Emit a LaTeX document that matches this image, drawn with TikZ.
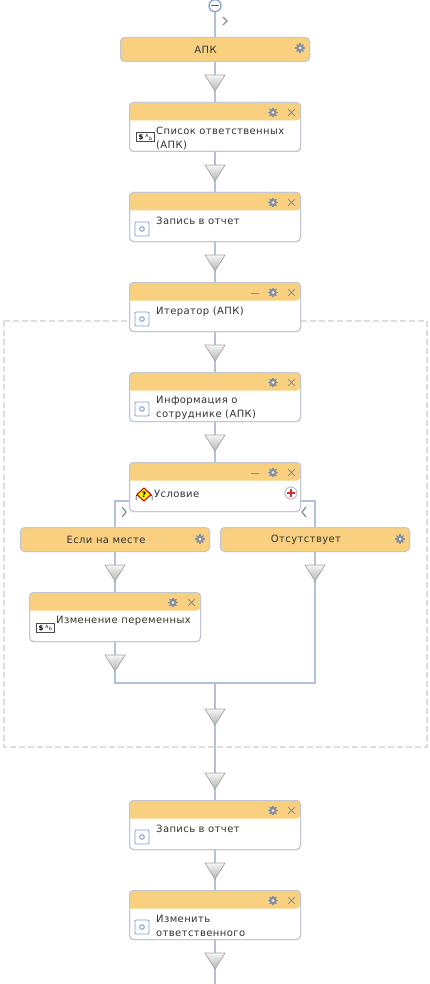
\documentclass[tikz,border=0pt]{standalone}
\usepackage{fontspec}
\setmainfont[LetterSpace=4]{DejaVu Sans}
\usetikzlibrary{shapes.geometric,backgrounds,calc}
\definecolor{hdr}{HTML}{F9D07F}
\definecolor{bord}{HTML}{C3C8D0}
\definecolor{wire}{HTML}{B2C3D8}
\definecolor{ico}{HTML}{8490A2}
\definecolor{txt}{HTML}{333333}
\definecolor{dashc}{HTML}{DEDEDE}
\definecolor{ringc}{HTML}{8FA6CC}
\definecolor{iconb}{HTML}{7FA0D0}
\tikzset{
  boxbase/.style={draw=bord,line width=1pt,rounded corners=4pt,inner sep=0pt},
  stepbox/.style={boxbase,fill=white,minimum width=171pt,minimum height=49pt},
  casebox/.style={boxbase,fill=hdr,minimum width=189pt,minimum height=24pt},
  label/.style={inner sep=0pt,text=txt,font=\fontsize{10}{14}\selectfont,align=left,anchor=north west},
  caselabel/.style={inner sep=0pt,text=txt,font=\fontsize{10}{14}\selectfont},
  wireline/.style={draw=wire,line width=2pt},
  mergetri/.style={isosceles triangle,isosceles triangle stretches,shape border rotate=-90,minimum width=20pt,minimum height=16pt,inner sep=0pt,draw=gray!70,line width=.7pt,top color=gray!8,bottom color=gray!60,anchor=apex},
  chev/.style={draw=ico,line width=1.2pt},
  tool/.style={draw=ico,line width=1pt},
}
\newcommand{\gearicon}[2]{%
  \fill[ico] (#1,#2) circle (3.8pt);
  \foreach \a in {0,45,...,315}{\draw[ico,line width=1.3pt] (#1,#2) ++(\a:2.6) -- ++(\a:2.2);}
  \fill[white!70!hdr] (#1,#2) circle (1.5pt);}
\newcommand{\closeicon}[2]{%
  \draw[tool] (#1,#2) ++(-3.3,-3.3) -- ++(6.6,6.6) ++(-6.6,0) -- ++(6.6,-6.6);}
\newcommand{\minusicon}[2]{\draw[tool] (#1-4,#2+4) -- (#1+4,#2+4);}
\newcommand{\stepframe}[5][24.5]{% text offset; name, cx, top, text
  \node[stepbox] (#2) at (#3,#4+25) {};
  \fill[hdr] (#3-85.5,#4+18.5) [rounded corners=4pt] -- (#3-85.5,#4+.5) -- (#3+85.5,#4+.5) [sharp corners] [rounded corners=4pt] -- (#3+85.5,#4+18.5) [sharp corners] -- cycle;
  \draw[bord,line width=1pt,rounded corners=4pt] (#3-85.5,#4+.5) rectangle (#3+85.5,#4+49.5);
  \gearicon{#3+58}{#4+10.5}
  \closeicon{#3+76.5}{#4+10.5}
  \node[label] (#2text) at (#3-59,#4+#1) {#5};}
\newcommand{\blockicon}[2]{%
  \draw[fill=white,draw=iconb,line width=.9pt,rounded corners=1pt] (#1,#2) rectangle (#1+14,#2+14);
  \draw[draw=iconb,line width=1pt] (#1+7,#2+7) circle (2.3pt);}
\newcommand{\varicon}[2]{%
  \draw[fill=white,draw=black!70,line width=.8pt] (#1,#2) rectangle (#1+18,#2+9);
  \node[inner sep=0pt,font=\fontsize{7}{7}\bfseries\selectfont] at (#1+5,#2+5) {\$};
  \node[inner sep=0pt,font=\fontsize{4.5}{4.5}\selectfont] at (#1+11,#2+3.5) {A};
  \node[inner sep=0pt,font=\fontsize{4.5}{4.5}\selectfont] at (#1+14.5,#2+6) {b};}
\newcommand{\tri}[3]{\node[mergetri] (#1) at (#2,#3+18) {};}
\begin{document}
\begin{tikzpicture}[x=1pt,y=-1pt]
\useasboundingbox (0,0) rectangle (429,984);

% top marker
\node[circle,draw=ringc,line width=1.4pt,fill=white,minimum size=12pt,inner sep=0pt] (start) at (215,5.7) {};
\draw[red!80!black!80,line width=1.5pt] (211,5.7) -- (219,5.7);
\draw[chev] (223,17) -- (227,21) -- (223,25);

% case and step boxes
\node[casebox] (apk) at (215,49.5) {};
\node[caselabel] (apktext) at (205.5,49.7) {АПК};
\gearicon{300}{48}

\stepframe{spisok}{215}{102}{Список ответственных\\(АПК)}
\varicon{136}{132.5}
\stepframe{zapis}{215}{192}{Запись в отчет}
\blockicon{135}{222}
\stepframe{iter}{215}{282}{Итератор (АПК)}
\blockicon{135}{312}
\minusicon{255}{289.5}
\stepframe{info}{215}{372}{Информация о\\сотруднике (АПК)}
\blockicon{135}{402}
\stepframe[28.5]{cond}{215}{462}{\hspace{-2pt}Условие}
\minusicon{255}{469.5}
% condition icon
\draw[black,line width=.5pt] (136,500) -- (136,496) -- (141,491);
\draw[black,line width=.5pt] (152,500) -- (152,496) -- (147,491);
\draw[fill=yellow,draw=red!80!black,line width=1pt] (144,488) -- (151,494.5) -- (144,501) -- (137,494.5) -- cycle;
\node[inner sep=0pt,font=\fontsize{7.5}{7.5}\bfseries\selectfont] at (144,494.5) {?};
% add button
\node[circle,draw=gray!45,line width=1.2pt,fill=white,minimum size=12pt,inner sep=0pt] (addbtn) at (291,493) {};
\draw[red!75!black!80,line width=1.8pt] (287,493) -- (295,493) (291,489) -- (291,497);

\node[casebox] (yes) at (115,539.5) {};
\node[caselabel] (yestext) at (106,539.7) {Если на месте};
\gearicon{200}{539}
\node[casebox] (no) at (315,539.5) {};
\node[caselabel] (notext) at (306,539.7) {Отсутствует};
\gearicon{400}{539}

\stepframe{change}{115}{592}{Изменение переменных}
\varicon{36}{623}
\stepframe{zapis2}{215}{800}{Запись в отчет}
\blockicon{135}{830}
\stepframe{izm}{215}{890}{Изменить\\ответственного}
\blockicon{135}{920}

\draw[chev] (122,507) -- (126,512) -- (122,517);
\draw[chev] (306,507) -- (302,512) -- (306,517);

% merge triangles
\tri{t1}{215}{74}
\tri{t2}{215}{164}
\tri{t3}{215}{254}
\tri{t4}{215}{344}
\tri{t5}{215}{434}
\tri{t6}{115}{564}
\tri{t7}{315}{564}
\tri{t8}{115}{654}
\tri{t9}{215}{708}
\tri{t10}{215}{772}
\tri{t11}{215}{862}
\tri{t12}{215}{952}

\coordinate (join) at (215,683);
\coordinate (joinL) at (115,683);
\coordinate (joinR) at (315,683);
\coordinate (bottom) at (215,984);
\coordinate (condL) at (129,501);
\coordinate (condR) at (301,501);

\begin{scope}[on background layer]
  \draw[dashc,line width=2pt,dash pattern=on 6pt off 3pt] (4,321) rectangle (427,747);
  \draw[wireline] (start) -- (apk);
  \draw[wireline] (apk) -- (spisok);
  \draw[wireline] (spisok) -- (zapis);
  \draw[wireline] (zapis) -- (iter);
  \draw[wireline] (iter) -- (info);
  \draw[wireline] (info) -- (cond);
  \draw[wireline] (condL) -| (yes.north);
  \draw[wireline] (condR) -| (no.north);
  \draw[wireline] (yes) -- (change);
  \draw[wireline] (change) -- (joinL) -- (joinR) -- (no);
  \draw[wireline] (join) -- (zapis2);
  \draw[wireline] (zapis2) -- (izm);
  \draw[wireline] (izm) -- (bottom);
\end{scope}
\end{tikzpicture}
\end{document}
